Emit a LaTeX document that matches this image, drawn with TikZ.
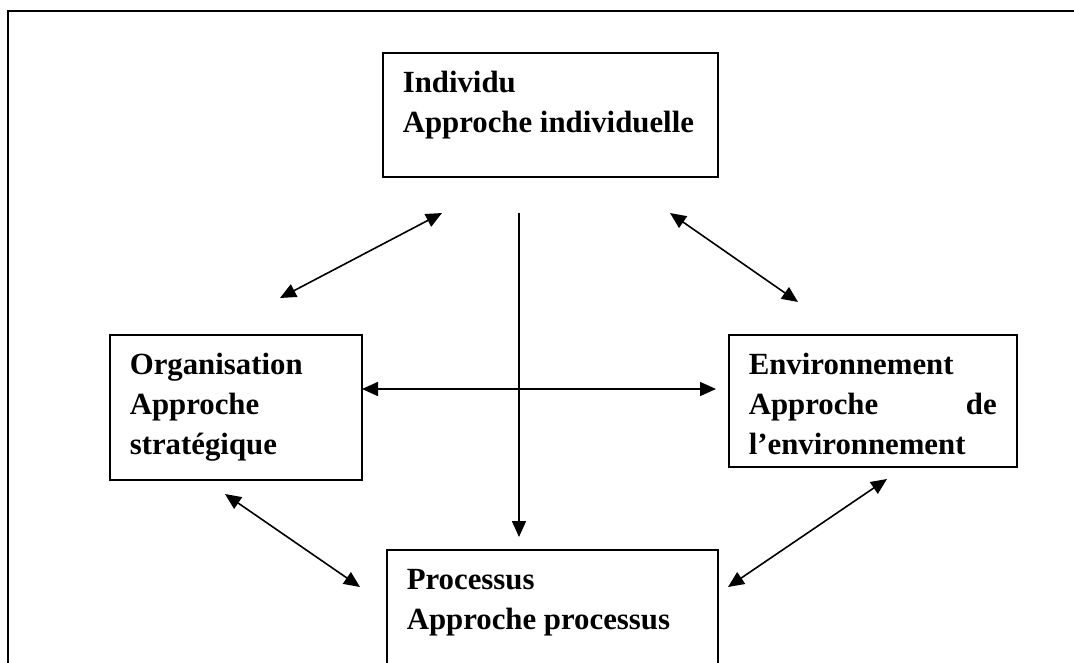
\documentclass[tikz,border=0pt]{standalone}
\usepackage{fontspec}
\setmainfont{Liberation Serif}
\usetikzlibrary{arrows.meta}
\begin{document}
\begin{tikzpicture}[x=1pt,y=-1pt,
  box/.style={draw, line width=1.6pt, inner xsep=20pt, inner ysep=12pt, anchor=north west,
    font=\fontsize{30.8}{40}\selectfont\bfseries},
  tip/.tip={Triangle[length=16pt,width=14pt]},
  arr/.style={line width=1.6pt, -tip},
  darr/.style={line width=1.6pt, tip-tip}]
\useasboundingbox (0,0) rectangle (1074,663);
\clip (0,0) rectangle (1074,663);
\draw[line width=2pt] (8,11) rectangle (1110,720);
\node[box] (ind) at (382,52) {\parbox[t][100pt][t]{295pt}{\strut Individu\\Approche individuelle}};
\node[box] (org) at (109,334) {\parbox[t][121pt][t]{212pt}{\strut Organisation\\Approche\\stratégique}};
\node[box] (env) at (728,334) {\parbox[t][108pt][t]{248pt}{\strut Environnement\\Approche\hfill de\\l’environnement}};
\node[box] (proc) at (386,549) {\parbox[t][150pt][t]{291pt}{\strut Processus\\Approche processus}};
\coordinate (a1s) at (280,298); \coordinate (a1e) at (442,213);
\coordinate (vs) at (519,213); \coordinate (ve) at (519,537);
\coordinate (a3s) at (670,213); \coordinate (a3e) at (798,302);
\coordinate (hs) at (362,389); \coordinate (he) at (716,389);
\coordinate (a5s) at (225,494); \coordinate (a5e) at (360,587);
\coordinate (a6s) at (887,479); \coordinate (a6e) at (728,587);
\draw[darr] (a1s) -- (a1e);
\draw[arr] (vs) -- (ve);
\draw[darr] (a3s) -- (a3e);
\draw[darr] (hs) -- (he);
\draw[darr] (a5s) -- (a5e);
\draw[darr] (a6s) -- (a6e);
\end{tikzpicture}
\end{document}
